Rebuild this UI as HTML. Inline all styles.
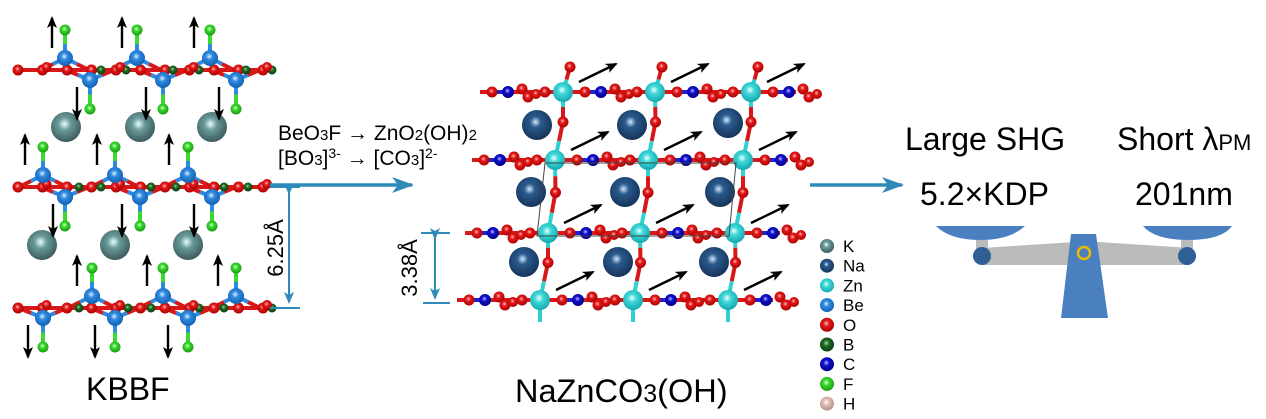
<!DOCTYPE html><html><head><meta charset="utf-8"><style>
html,body{margin:0;padding:0;background:#fff;width:1266px;height:419px;overflow:hidden}
svg{display:block}
text{font-family:"Liberation Sans",sans-serif}
</style></head><body>
<svg id="s" width="1266" height="419" viewBox="0 0 1266 419" xmlns="http://www.w3.org/2000/svg">
<defs>
<radialGradient id="gK" cx=".45" cy=".4" r=".6"><stop offset="0" stop-color="#e8ffff"/><stop offset=".35" stop-color="#6a9a9a"/><stop offset="1" stop-color="#3c5c5e"/></radialGradient>
<radialGradient id="gNa" cx=".45" cy=".4" r=".6"><stop offset="0" stop-color="#cfe8ff"/><stop offset=".3" stop-color="#2a5a8c"/><stop offset="1" stop-color="#15345a"/></radialGradient>
<radialGradient id="gZn" cx=".45" cy=".4" r=".6"><stop offset="0" stop-color="#f0ffff"/><stop offset=".35" stop-color="#3fd8d8"/><stop offset="1" stop-color="#14a8b0"/></radialGradient>
<radialGradient id="gBe" cx=".45" cy=".4" r=".6"><stop offset="0" stop-color="#e0f0ff"/><stop offset=".35" stop-color="#2e8ae0"/><stop offset="1" stop-color="#1460b0"/></radialGradient>
<radialGradient id="gO" cx=".45" cy=".4" r=".6"><stop offset="0" stop-color="#ffc0c0"/><stop offset=".35" stop-color="#e41a1a"/><stop offset="1" stop-color="#a00"/></radialGradient>
<radialGradient id="gB" cx=".45" cy=".4" r=".6"><stop offset="0" stop-color="#aaddaa"/><stop offset=".35" stop-color="#1f6a22"/><stop offset="1" stop-color="#0e3e10"/></radialGradient>
<radialGradient id="gC" cx=".45" cy=".4" r=".6"><stop offset="0" stop-color="#c0c0ff"/><stop offset=".35" stop-color="#1010d0"/><stop offset="1" stop-color="#000080"/></radialGradient>
<radialGradient id="gF" cx=".45" cy=".4" r=".6"><stop offset="0" stop-color="#e8ffe0"/><stop offset=".35" stop-color="#3ada30"/><stop offset="1" stop-color="#1a9a10"/></radialGradient>
<radialGradient id="gH" cx=".45" cy=".4" r=".6"><stop offset="0" stop-color="#fff"/><stop offset=".35" stop-color="#e0c0b8"/><stop offset="1" stop-color="#b09088"/></radialGradient>
<marker id="ab" markerWidth="12" markerHeight="10" refX="10" refY="5" orient="auto" markerUnits="userSpaceOnUse"><path d="M0,0 L12,5 L0,10 L3,5z" fill="#000"/></marker>
<marker id="ablue" markerWidth="12" markerHeight="12" refX="10" refY="6" orient="auto" markerUnits="userSpaceOnUse"><path d="M0,1 L12,6 L0,11 L3,6z" fill="#2e8ab8"/></marker>
<marker id="as" markerWidth="22" markerHeight="16" refX="20" refY="8" orient="auto" markerUnits="userSpaceOnUse"><path d="M0,0 L22,8 L0,16 L6,8z" fill="#2e8ab8"/></marker>
</defs>
<g id="bonds"></g><g id="atoms"></g><g id="arr"></g>
<text x="86" y="400" font-size="32">KBBF</text>
<text x="515" y="402" font-size="32.5">NaZnCO<tspan font-size="25">3</tspan>(OH)</text>
<text x="278" y="140" font-size="21">BeO<tspan font-size="15">3</tspan>F → ZnO<tspan font-size="15">2</tspan>(OH)<tspan font-size="15">2</tspan></text>
<text x="278" y="165" font-size="21">[BO<tspan font-size="15">3</tspan>]<tspan font-size="14" dy="-7">3-</tspan><tspan dy="7"> → [CO</tspan><tspan font-size="15">3</tspan>]<tspan font-size="14" dy="-7">2-</tspan></text>
<line x1="270" y1="185" x2="412" y2="185" stroke="#2e8ab8" stroke-width="3.5" marker-end="url(#as)"/>
<line x1="810" y1="185" x2="902" y2="185" stroke="#2e8ab8" stroke-width="3.5" marker-end="url(#as)"/>
<line x1="270" y1="187" x2="300" y2="187" stroke="#2e8ab8" stroke-width="2"/>
<line x1="270" y1="308" x2="300" y2="308" stroke="#2e8ab8" stroke-width="2"/>
<line x1="289" y1="193" x2="289" y2="302" stroke="#2e8ab8" stroke-width="2" marker-end="url(#ablue)" marker-start="url(#ablue)"/>
<text transform="translate(283,248) rotate(-90)" font-size="22" text-anchor="middle">6.25Å</text>
<line x1="421" y1="233" x2="450" y2="233" stroke="#2e8ab8" stroke-width="2"/>
<line x1="423" y1="303" x2="450" y2="303" stroke="#2e8ab8" stroke-width="2"/>
<line x1="435" y1="238" x2="435" y2="298" stroke="#2e8ab8" stroke-width="2" marker-end="url(#ablue)" marker-start="url(#ablue)"/>
<text transform="translate(417,268) rotate(-90)" font-size="22" text-anchor="middle">3.38Å</text>
<polygon points="545,163 736,163 729,236 537,236" fill="none" stroke="#444" stroke-width="1"/>
<text x="905" y="150" font-size="32">Large SHG</text>
<text x="1117" y="150" font-size="32">Short λ<tspan font-size="22">PM</tspan></text>
<text x="920" y="205" font-size="32">5.2×KDP</text>
<text x="1135" y="205" font-size="32">201nm</text>
<path d="M936,226 L1025,226 Q1010,240 980,240 Q950,240 936,226z" fill="#4a7fc0"/>
<path d="M1143,226 L1232,226 Q1222,240 1188,240 Q1155,240 1143,226z" fill="#4a7fc0"/>
<rect x="976" y="240" width="12" height="10" fill="#bbb"/>
<rect x="1181" y="240" width="12" height="10" fill="#bbb"/>
<polygon points="982,248 1075,242 1098,242 1190,248 1190,265 982,265" fill="#bbb"/>
<circle cx="982" cy="256" r="9" fill="#2e5f95"/>
<circle cx="1187" cy="256" r="9" fill="#2e5f95"/>
<polygon points="1071,234 1096,234 1108,318 1061,318" fill="#4a7fc0"/>
<circle cx="1084" cy="253" r="6" fill="none" stroke="#f0b800" stroke-width="2.5"/>
<g id="leg"></g>
</svg>
<script>
const NS="http://www.w3.org/2000/svg";
const B=document.getElementById('bonds'),A=document.getElementById('atoms'),R=document.getElementById('arr');
function el(p,t,a){const e=document.createElementNS(NS,t);for(const k in a)e.setAttribute(k,a[k]);p.appendChild(e);return e;}
const C={K:'gK',Na:'gNa',Zn:'gZn',Be:'gBe',O:'gO',B:'gB',C:'gC',F:'gF',H:'gH'};
function at(x,y,t,r){el(A,'circle',{cx:x,cy:y,r:r,fill:'url(#'+C[t]+')'});}
function bd(x1,y1,x2,y2,c1,c2,w){w=w||4;const mx=(x1+x2)/2,my=(y1+y2)/2;
el(B,'line',{x1:x1,y1:y1,x2:mx,y2:my,stroke:c1,'stroke-width':w});
el(B,'line',{x1:mx,y1:my,x2:x2,y2:y2,stroke:c2||c1,'stroke-width':w});}
function ar(x1,y1,x2,y2){el(R,'line',{x1:x1,y1:y1,x2:x2,y2:y2,stroke:'#000','stroke-width':2.4,'marker-end':'url(#ab)'});}
function layer(y,up,dn,arUp,arDn){
 const ox=[];for(let x=18;x<=265;x+=24.5)ox.push(x);
 el(B,'line',{x1:18,y1:y,x2:263,y2:y,stroke:'#d81818','stroke-width':4});
 up.forEach(x=>{bd(x,y-12,x-24,y,'#2e8ae0','#d81818');bd(x,y-12,x+24,y,'#2e8ae0','#d81818');bd(x,y-12,x,y-40,'#2e8ae0','#3ada30');});
 dn.forEach(x=>{bd(x,y+10,x-24,y,'#2e8ae0','#d81818');bd(x,y+10,x+24,y,'#2e8ae0','#d81818');bd(x,y+10,x,y+39,'#2e8ae0','#3ada30');});
 ox.forEach((x,i)=>at(x,y,'O',5.5));
 [...up,...dn].forEach(x=>{at(x+36,y,'B',4.5);});
 ox.forEach((x,i)=>{if(i%3==1)at(x+4,y-3,'O',5);});
 up.forEach(x=>{at(x,y-12,'Be',8);at(x,y-40,'F',5.5);});
 dn.forEach(x=>{at(x,y+10,'Be',8);at(x,y+39,'F',5.5);});
 arUp.forEach(x=>ar(x,y-22,x,y-52));
 arDn.forEach(x=>ar(x,y+17,x,y+49));
}
layer(70,[65,137,210],[90,163,236],[52,122,194],[77,146,219]);
layer(187,[43,115,188],[65,140,212],[25,97,169],[53,122,194]);
layer(308,[92,163,236],[43,115,188],[77,147,218],[28,95,168]);
[[66,127],[140,127],[212,127],[42,245],[115,245],[188,245]].forEach(p=>at(p[0],p[1],'K',15));
const rows=[[92,[563,655,751]],[160,[555,648,743]],[233,[548,640,735]],[300,[540,633,728]]];
for(let r=0;r<3;r++){for(let c=0;c<3;c++){const [y1,xs1]=rows[r],[y2,xs2]=rows[r+1];
 const x1=xs1[c],x2=xs2[c];bd(x1,y1,(x1+x2)/2+4,(y1+y2)/2-4,'#30d0d0','#d81818');bd((x1+x2)/2+4,(y1+y2)/2-4,x2,y2,'#d81818','#30d0d0');}}
rows.forEach(([y,xs],ri)=>{
 const x0=xs[0]-83;
 el(B,'line',{x1:x0,y1:y,x2:xs[2]+45,y2:y,stroke:'#d81818','stroke-width':4});
 xs.forEach(x=>{bd(x,y,x-18,y,'#30d0d0','#d81818');});
 if(ri==0)xs.forEach(x=>{bd(x,y,x+7,y-25,'#30d0d0','#d81818');});
 if(ri==3)xs.forEach(x=>{el(B,'line',{x1:x,y1:y,x2:x,y2:y+22,stroke:'#30d0d0','stroke-width':4});});
 [x0].concat(xs).forEach((x,i)=>{const cx=i==0?x+28:x+38;
   at(cx-16,y,'O',5.5);at(cx,y,'C',6);at(cx+14,y-3,'O',5.5);at(cx+20,y+5,'O',5.5);at(cx+28,y+2,'O',5);
   el(B,'line',{x1:cx-16,y1:y,x2:cx,y2:y,stroke:'#2020d0','stroke-width':4});});
 xs.forEach(x=>{at(x-18,y,'O',5.5);});
 if(ri==0)xs.forEach(x=>at(x+7,y-25,'O',5.5));
 xs.forEach(x=>at(x,y,'Zn',10));
 xs.forEach(x=>ar(x+16,y-10,x+53,y-28));
});
for(let r=0;r<3;r++){const [y1,xs1]=rows[r],[y2,xs2]=rows[r+1];for(let c=0;c<3;c++){at((xs1[c]+xs2[c])/2+4,(y1+y2)/2-4,'O',5.5);}}
[[537,125],[632,125],[728,123],[531,192],[625,192],[720,192],[524,262],[618,262],[714,262]].forEach(p=>at(p[0],p[1],'Na',15));
const L=document.getElementById('leg');
['K','Na','Zn','Be','O','B','C','F','H'].forEach((t,i)=>{const y=246+i*19.7;at(827,y,t,7);
 const tx=el(L,'text',{x:843,y:y+6,'font-size':17});tx.textContent=t;});
</script>
</body></html>
